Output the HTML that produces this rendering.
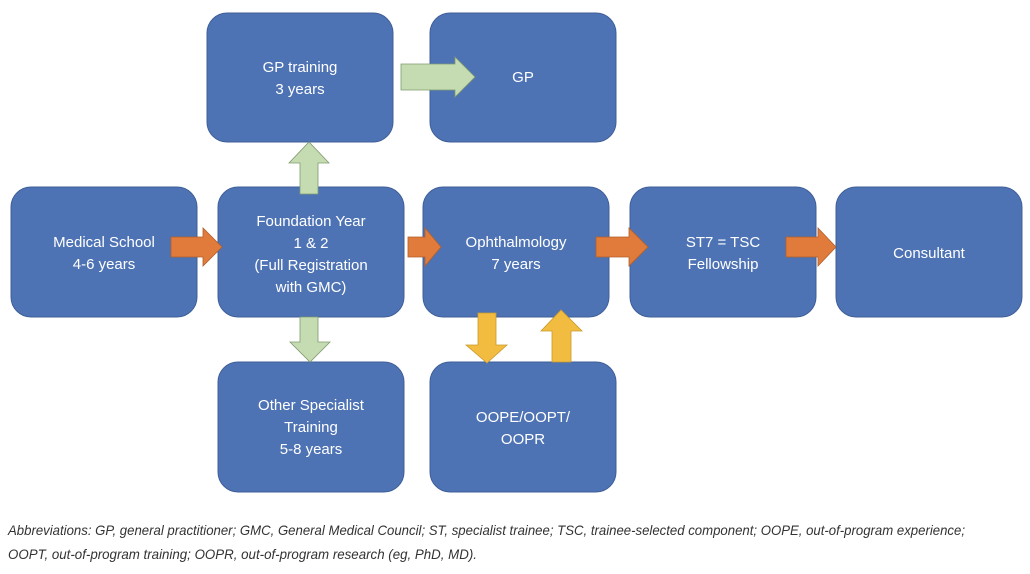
<!DOCTYPE html>
<html><head><meta charset="utf-8"><style>
html,body{margin:0;padding:0;background:#fff;width:1030px;height:574px;overflow:hidden}
svg{display:block}
.b{fill:#4e73b4;stroke:#3f5f98;stroke-width:1}
.t{font-family:"Liberation Sans",sans-serif;font-size:15px;fill:#fff;text-anchor:middle}
.cap{font-family:"Liberation Sans Narrow","Liberation Sans",sans-serif;font-style:italic;font-size:14px;fill:#333}
</style></head><body>
<svg width="1030" height="574" viewBox="0 0 1030 574">
<rect class="b" x="207" y="13" width="186" height="129" rx="20"/>
<rect class="b" x="430" y="13" width="186" height="129" rx="20"/>
<rect class="b" x="11" y="187" width="186" height="130" rx="20"/>
<rect class="b" x="218" y="187" width="186" height="130" rx="20"/>
<rect class="b" x="423" y="187" width="186" height="130" rx="20"/>
<rect class="b" x="630" y="187" width="186" height="130" rx="20"/>
<rect class="b" x="836" y="187" width="186" height="130" rx="20"/>
<rect class="b" x="218" y="362" width="186" height="130" rx="20"/>
<rect class="b" x="430" y="362" width="186" height="130" rx="20"/>

<g class="t">
<text x="300" y="72">GP training</text><text x="300" y="94">3 years</text>
<text x="523" y="82">GP</text>
<text x="104" y="247">Medical School</text><text x="104" y="269">4-6 years</text>
<text x="311" y="226">Foundation Year</text><text x="311" y="248">1 &amp; 2</text><text x="311" y="270">(Full Registration</text><text x="311" y="292">with GMC)</text>
<text x="516" y="247">Ophthalmology</text><text x="516" y="269">7 years</text>
<text x="723" y="247">ST7 = TSC</text><text x="723" y="269">Fellowship</text>
<text x="929" y="258">Consultant</text>
<text x="311" y="410">Other Specialist</text><text x="311" y="432">Training</text><text x="311" y="454">5-8 years</text>
<text x="523" y="422">OOPE/OOPT/</text><text x="523" y="444">OOPR</text>
</g>

<g fill="#e07b3c" stroke="#b0602c" stroke-width="0.8">
<polygon points="171,237 203,237 203,228 222,247 203,266 203,257 171,257"/>
<polygon points="408,237 425,237 425,228 441,247 425,266 425,257 408,257"/>
<polygon points="596,237 629,237 629,228 648,247 629,266 629,257 596,257"/>
<polygon points="786,237 818,237 818,228 836,247 818,266 818,257 786,257"/>
</g>
<g fill="#c5dcb3" stroke="#7f9a6e" stroke-width="0.8">
<polygon points="300,194 300,163 289,163 309,142 329,163 318,163 318,194"/>
<polygon points="300,317 318,317 318,342 330,342 310,362 290,342 300,342"/>
<polygon points="401,64 455,64 455,57 475,77 455,97 455,90 401,90"/>
</g>
<g fill="#f2bc41" stroke="#c99a2c" stroke-width="0.8">
<polygon points="478,313 496,313 496,345 507,345 487,363 466,345 478,345"/>
<polygon points="552,362 552,331 541,331 561,310 582,331 571,331 571,362"/>
</g>

<text class="cap" x="8" y="535" textLength="957" lengthAdjust="spacingAndGlyphs">Abbreviations: GP, general practitioner; GMC, General Medical Council; ST, specialist trainee; TSC, trainee-selected component; OOPE, out-of-program experience;</text>
<text class="cap" x="8" y="559" textLength="469" lengthAdjust="spacingAndGlyphs">OOPT, out-of-program training; OOPR, out-of-program research (eg, PhD, MD).</text>
</svg>
</body></html>
